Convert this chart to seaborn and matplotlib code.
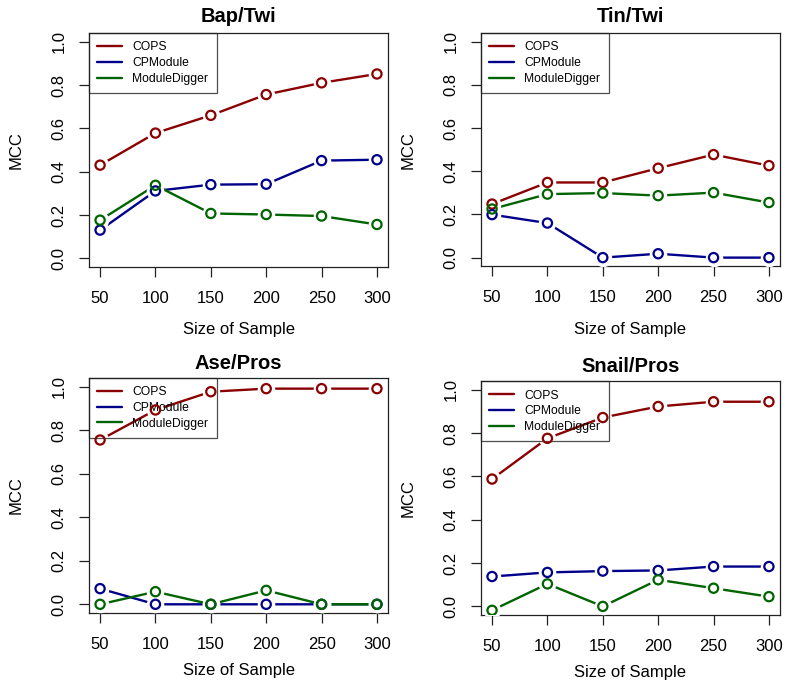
#!/usr/bin/env python3
"""
MCC vs sample size for COPS, CPModule and ModuleDigger, four TF pairs.
R base-graphics look (type="b" lines, boxed legend, rotated y tick labels).
"""

import pandas as pd
import matplotlib
matplotlib.use("Agg")
import matplotlib.pyplot as plt
import seaborn as sns

sample_sizes = [50, 100, 150, 200, 250, 300]
methods = ["COPS", "CPModule", "ModuleDigger"]
colors = {"COPS": "#8B0000", "CPModule": "#00008B", "ModuleDigger": "#006400"}

# Bap/Twi
bap_cops = [0.43, 0.578, 0.66, 0.756, 0.81, 0.851]
bap_cpm = [0.13, 0.311, 0.34, 0.342, 0.451, 0.455]
bap_md = [0.176, 0.337, 0.207, 0.202, 0.195, 0.156]

# Tin/Twi
tin_cops = [0.248, 0.348, 0.348, 0.414, 0.477, 0.426]
tin_cpm = [0.199, 0.16, 0.0, 0.018, 0.0, 0.0]
tin_md = [0.225, 0.294, 0.299, 0.287, 0.301, 0.255]

# Ase/Pros
ase_cops = [0.755, 0.893, 0.977, 0.991, 0.991, 0.991]
ase_cpm = [0.072, 0.0, 0.0, 0.0, 0.0, 0.0]
ase_md = [0.0, 0.058, 0.0, 0.064, 0.0, 0.0]

# Snail/Pros
snail_cops = [0.588, 0.776, 0.872, 0.923, 0.945, 0.945]
snail_cpm = [0.138, 0.157, 0.163, 0.166, 0.184, 0.184]
snail_md = [-0.018, 0.104, 0.0, 0.123, 0.084, 0.045]

panels = [
    ("Bap/Twi", [bap_cops, bap_cpm, bap_md]),
    ("Tin/Twi", [tin_cops, tin_cpm, tin_md]),
    ("Ase/Pros", [ase_cops, ase_cpm, ase_md]),
    ("Snail/Pros", [snail_cops, snail_cpm, snail_md]),
]

sns.set_theme(style="ticks")
plt.rcParams["font.family"] = ["Liberation Sans", "DejaVu Sans"]
plt.rcParams["text.color"] = "black"
plt.rcParams["axes.labelcolor"] = "black"
plt.rcParams["xtick.color"] = "black"
plt.rcParams["ytick.color"] = "black"

fig = plt.figure(figsize=(7.89, 6.88), dpi=100)

# axes rectangles [left, bottom, width, height] in figure fraction
rects = [
    [0.1128, 0.612, 0.379, 0.340],
    [0.6096, 0.613, 0.379, 0.339],
    [0.1128, 0.109, 0.379, 0.3416],
    [0.6096, 0.106, 0.379, 0.340],
]

for i, ((title, series), rect) in enumerate(zip(panels, rects)):
    ax = fig.add_axes(rect)

    df = pd.DataFrame({
        "size": sample_sizes * 3,
        "mcc": series[0] + series[1] + series[2],
        "method": sum([[m] * len(sample_sizes) for m in methods], []),
    })

    sns.lineplot(data=df, x="size", y="mcc", hue="method", hue_order=methods,
                 palette=colors, linewidth=1.7, ax=ax, legend=False, zorder=2)
    # white discs to leave the gap R's type="b" leaves around each point
    sns.scatterplot(data=df, x="size", y="mcc", color="white", s=160,
                    linewidth=0, ax=ax, legend=False, zorder=3)
    sns.scatterplot(data=df, x="size", y="mcc", hue="method", hue_order=methods,
                    palette=colors, s=44, linewidth=1.6,
                    ax=ax, legend=False, zorder=4)
    pts = ax.collections[-1]
    pts.set_facecolor("none")
    pts.set_edgecolors([colors[m] for m in df["method"]])

    ax.set_xlim(40, 310)
    ax.set_ylim(-0.04, 1.04)
    ax.set_xticks(sample_sizes)
    ax.set_yticks([0.0, 0.2, 0.4, 0.6, 0.8, 1.0])
    ax.set_yticklabels(["0.0", "0.2", "0.4", "0.6", "0.8", "1.0"])

    for sp in ax.spines.values():
        sp.set_visible(True)
        sp.set_linewidth(0.9)
        sp.set_color("#222222")

    ax.tick_params(axis="both", direction="out", length=7, width=0.9,
                   color="#222222", labelsize=12, pad=9)
    ax.tick_params(axis="x", pad=10)
    for lab in ax.get_yticklabels():
        lab.set_rotation(90)
        lab.set_va("center")
        lab.set_ha("right")

    ax.set_title(title, fontsize=14.5, fontweight="bold", pad=8 if i < 2 else 6.5)
    ax.set_xlabel("Size of Sample", fontsize=12, labelpad=12 if i < 2 else 8)
    ax.set_ylabel("MCC", fontsize=12, labelpad=20)

    handles = [plt.Line2D([], [], color=colors[m], linewidth=1.7) for m in methods]
    leg = ax.legend(handles, methods, loc="upper left", bbox_to_anchor=(0, 1),
                    borderaxespad=0, fontsize=8.7, frameon=True, fancybox=False,
                    handlelength=2.0, handletextpad=0.9, labelspacing=0.3,
                    borderpad=0.7)
    leg.get_frame().set_edgecolor("#222222")
    leg.get_frame().set_linewidth(0.9)
    leg.get_frame().set_facecolor("none")
    leg.set_zorder(3.5)

fig.savefig("out.png", dpi=100)
plt.close(fig)
